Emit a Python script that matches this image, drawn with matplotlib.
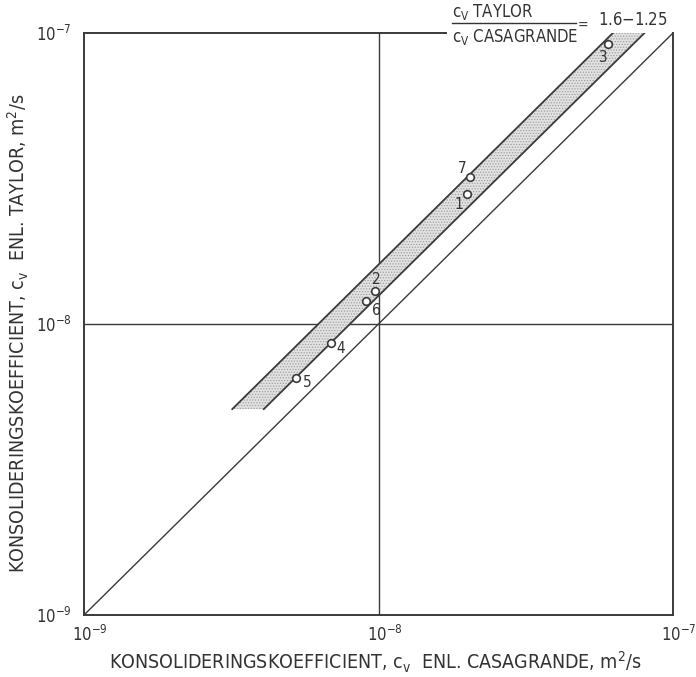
import matplotlib
matplotlib.use("Agg")
import matplotlib.pyplot as plt
from matplotlib.lines import Line2D
from matplotlib.transforms import ScaledTranslation
import numpy as np

plt.rcParams['font.family'] = ['DejaVu Sans']
plt.rcParams['font.stretch'] = 'condensed'
plt.rcParams['mathtext.default'] = 'regular'
plt.rcParams['hatch.linewidth'] = 0.6

# Test results: cv by Casagrande (x) and by Taylor (y), m2/s
test_ids = ["1", "2", "3", "4", "5", "6", "7"]
cv_casagrande = [2.0e-8, 9.7e-9, 6.0e-8, 6.9e-9, 5.25e-9, 9.1e-9, 2.05e-8]
cv_taylor = [2.8e-8, 1.3e-8, 9.2e-8, 8.6e-9, 6.5e-9, 1.2e-8, 3.2e-8]

# Ratio band cv,Taylor / cv,Casagrande
ratio_high = 1.6
ratio_low = 1.25
band_y = [5.1e-9, 1.0e-7]

tick_values = [1e-9, 1e-8, 1e-7]
tick_labels = ["$10^{-9}$", "$10^{-8}$", "$10^{-7}$"]

# Label offsets in points (dx, dy) for each test number
label_offsets = {"1": (-6, -8), "2": (1, 8), "3": (-3, -10), "4": (7, -4),
                 "5": (8, -3), "6": (7, -7), "7": (-6, 6)}

W, H = 696, 677
fig = plt.figure(figsize=(W / 100, H / 100), dpi=100)
ax = fig.add_axes([84 / W, (H - 615) / H, 589 / W, 582 / H])
ax.set_xscale("log")
ax.set_yscale("log")
ax.set_xlim(1e-9, 1e-7)
ax.set_ylim(1e-9, 1e-7)

ink = "#3a3a3a"
txt = "#333333"

# Middle grid lines at 1e-8
ax.axvline(1e-8, color=ink, lw=1.0, zorder=1)
ax.axhline(1e-8, color=ink, lw=1.0, zorder=1)

# 1:1 line
ax.plot([1e-9, 1e-7], [1e-9, 1e-7], color=ink, lw=1.0, zorder=2)

# Stippled ratio band
by = np.array(band_y)
ax.fill_betweenx(by, by / ratio_high, by / ratio_low, facecolor="#e2e2e2",
                 edgecolor="#a0a0a0", hatch="......", linewidth=0, zorder=3)
ax.plot(by / ratio_high, by, color=ink, lw=1.3, zorder=4)
ax.plot(by / ratio_low, by, color=ink, lw=1.3, zorder=4)

# Test points
ax.plot(cv_casagrande, cv_taylor, "o", ms=5.5, mfc="white", mec=ink,
        mew=1.2, zorder=5)
for tid, xv, yv in zip(test_ids, cv_casagrande, cv_taylor):
    dx, dy = label_offsets[tid]
    ax.annotate(tid, (xv, yv), xytext=(dx, dy), textcoords="offset points",
                ha="center", va="center", fontsize=11, color=txt, zorder=6)

# Frame: top edge stops short of the ratio annotation
for side in ("left", "right", "bottom"):
    ax.spines[side].set_color(ink)
    ax.spines[side].set_linewidth(1.4)
ax.spines["top"].set_visible(False)

ax.tick_params(which="both", length=0, labelsize=12, colors=txt)
ax.minorticks_off()
ax.set_xticks(tick_values)
ax.set_yticks(tick_values)
ax.set_xticklabels(tick_labels)
ax.set_yticklabels(tick_labels)
ax.tick_params(axis="x", pad=7)
ax.tick_params(axis="y", pad=9)
shift = ScaledTranslation(6 / 100, 0, fig.dpi_scale_trans)
for lab in ax.get_xticklabels():
    lab.set_transform(lab.get_transform() + shift)

ax.set_xlabel("KONSOLIDERINGSKOEFFICIENT, c$_v$  ENL. CASAGRANDE, m$^2$/s",
              fontsize=14, color=txt)
ax.set_ylabel("KONSOLIDERINGSKOEFFICIENT, c$_v$  ENL. TAYLOR, m$^2$/s",
              fontsize=14, color=txt)
ax.xaxis.set_label_coords((375 - 84) / 589, -(650 - 615) / 582)
ax.yaxis.set_label_coords((31 - 84) / 589, (615 - 333) / 582)

# Ratio annotation in the upper right corner
def px(x, y):
    return x / W, 1 - y / H

bottom_txt = fig.text(*px(578, 37), "c$_V$ CASAGRANDE", fontsize=12,
                      color=txt, ha="right", va="center")
renderer = fig.canvas.get_renderer()
left_px = bottom_txt.get_window_extent(renderer).x0
fig.text(left_px / W, 1 - 12 / H, "c$_V$ TAYLOR", fontsize=12, color=txt,
         ha="left", va="center")
fig.add_artist(Line2D([left_px / W, 576 / W], [1 - 23 / H, 1 - 23 / H],
                      color=txt, lw=1.0))
fig.text(*px(583, 26), "=", fontsize=10, color=txt, ha="center", va="center")
fig.text(*px(598, 20), "1.6$-$1.25", fontsize=12, color=txt,
         ha="left", va="center")

ax.add_line(Line2D([0, (left_px - 6 - 84) / 589], [1, 1],
                   transform=ax.transAxes, color=ink, lw=1.4,
                   clip_on=False, zorder=6))

fig.savefig("out.png", dpi=100, facecolor="white")
